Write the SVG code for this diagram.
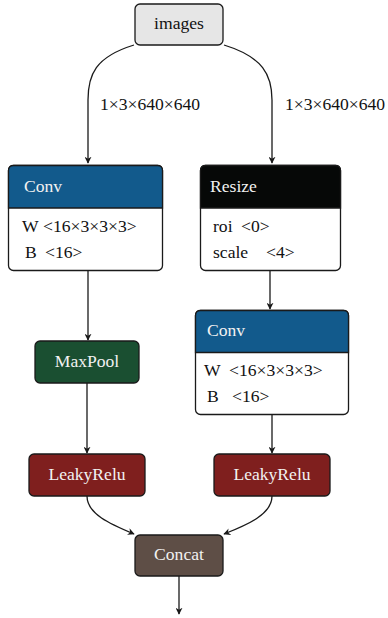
<svg xmlns="http://www.w3.org/2000/svg" width="388" height="618" viewBox="0 0 388 618">
<defs>
<style>
text{font-family:"Liberation Serif","DejaVu Serif",serif;font-size:17.6px;fill:#111}
.w{fill:#f2f2f2}
.c{text-anchor:middle}
.box{stroke:#1a1a1a;stroke-width:1.3}
.edge{fill:none;stroke:#1a1a1a;stroke-width:1.3;marker-end:url(#ah)}
</style>
<marker id="ah" viewBox="0 0 10 10" refX="9" refY="5" markerWidth="7" markerHeight="7" orient="auto" markerUnits="userSpaceOnUse">
<path d="M0,0 L10,5 L0,10 L3,5 z" fill="#1a1a1a"/>
</marker>
</defs>
<g id="connectors">
<path class="edge" d="M134,45 C95,57 88,75 88,100 L88,163"/>
<path class="edge" d="M224,45 C263,57 272,75 272,100 L272,163"/>
<path class="edge" d="M88,271 L88,340"/>
<path class="edge" d="M270,271 L270,309"/>
<path class="edge" d="M87,383 L87,453"/>
<path class="edge" d="M272,415 L272,453"/>
<path class="edge" d="M87,496 C87,514 110,524 134,534"/>
<path class="edge" d="M272,496 C272,514 249,524 224,534"/>
<path class="edge" d="M179,576 L179,614"/>
<text x="100" y="110">1×3×640×640</text>
<text x="285" y="110">1×3×640×640</text>
</g>
<g id="images">
<rect class="box" x="135" y="4" width="88" height="41" rx="5" fill="#e6e6e6"/>
<text class="c" x="179" y="29">images</text>
</g>
<g id="conv1">
<rect class="box" x="8.5" y="165.5" width="154" height="105" rx="5" fill="#ffffff"/>
<path d="M8.5,208 L8.5,170.5 Q8.5,165.5 13.5,165.5 L157.5,165.5 Q162.5,165.5 162.5,170.5 L162.5,208 Z" fill="#125a8c" stroke="#1a1a1a" stroke-width="1.3"/>
<text class="w" x="24" y="192">Conv</text>
<text x="22" y="232">W</text>
<text x="43" y="232">&lt;16×3×3×3&gt;</text>
<text x="25" y="258">B</text>
<text x="45" y="258">&lt;16&gt;</text>
</g>
<g id="resize">
<rect class="box" x="200.5" y="165.5" width="140" height="105" rx="5" fill="#ffffff"/>
<path d="M200.5,208 L200.5,170.5 Q200.5,165.5 205.5,165.5 L335.5,165.5 Q340.5,165.5 340.5,170.5 L340.5,208 Z" fill="#060807" stroke="#1a1a1a" stroke-width="1.3"/>
<text class="w" x="210" y="192">Resize</text>
<text x="213" y="232">roi</text>
<text x="241" y="232">&lt;0&gt;</text>
<text x="213" y="258">scale</text>
<text x="266" y="258">&lt;4&gt;</text>
</g>
<g id="conv2">
<rect class="box" x="195.5" y="310.5" width="153" height="104" rx="5" fill="#ffffff"/>
<path d="M195.5,352.5 L195.5,315.5 Q195.5,310.5 200.5,310.5 L343.5,310.5 Q348.5,310.5 348.5,315.5 L348.5,352.5 Z" fill="#125a8c" stroke="#1a1a1a" stroke-width="1.3"/>
<text class="w" x="207" y="336">Conv</text>
<text x="204" y="376">W</text>
<text x="229" y="376">&lt;16×3×3×3&gt;</text>
<text x="207" y="402">B</text>
<text x="232" y="402">&lt;16&gt;</text>
</g>
<g id="maxpool">
<rect class="box" x="35" y="341" width="104" height="42" rx="5" fill="#1a4f31"/>
<text class="c w" x="87" y="367">MaxPool</text>
</g>
<g id="leakyrelu1">
<rect class="box" x="29" y="454" width="116" height="42" rx="5" fill="#7f1f1e"/>
<text class="c w" x="87" y="480">LeakyRelu</text>
</g>
<g id="leakyrelu2">
<rect class="box" x="214" y="454" width="116" height="42" rx="5" fill="#7f1f1e"/>
<text class="c w" x="272" y="480">LeakyRelu</text>
</g>
<g id="concat">
<rect class="box" x="135" y="535" width="88" height="41" rx="5" fill="#5e4e46"/>
<text class="c w" x="179" y="560">Concat</text>
</g>
</svg>
